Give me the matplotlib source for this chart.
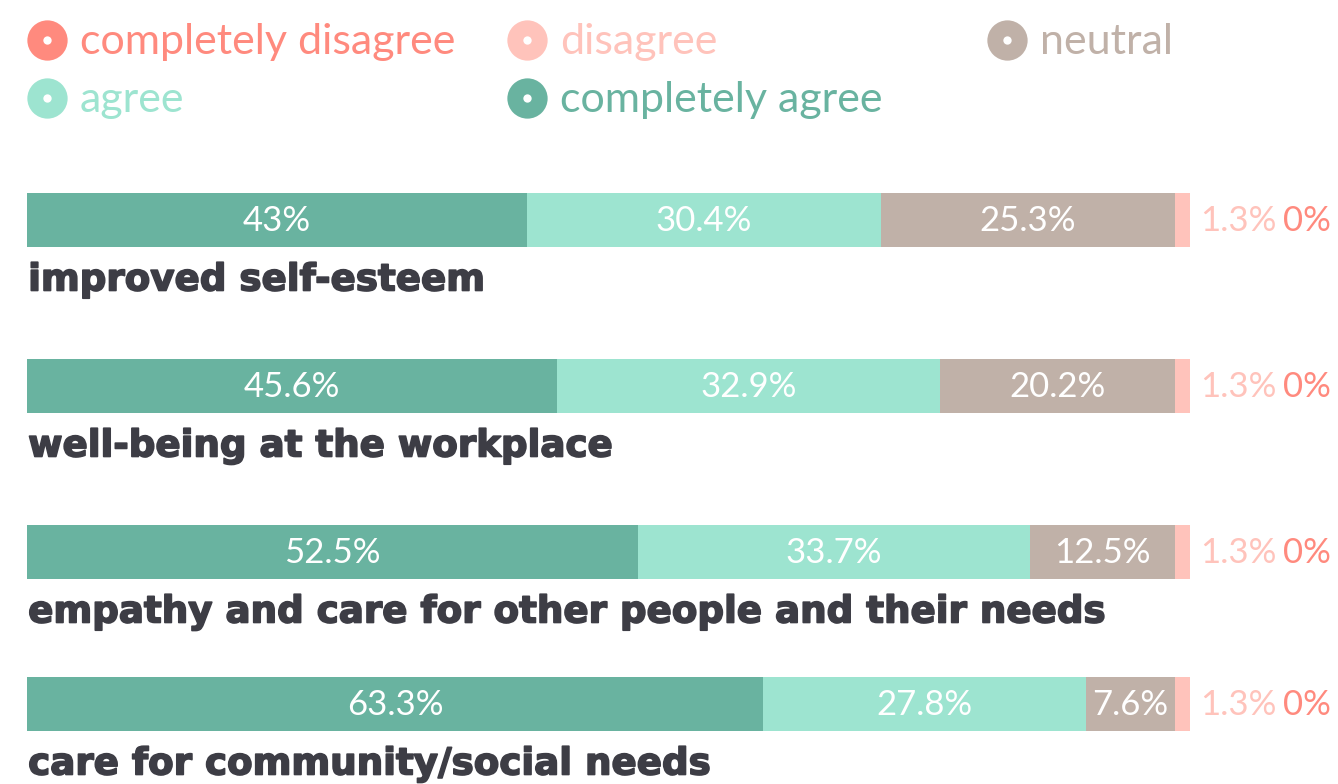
import matplotlib
matplotlib.use("Agg")
import matplotlib.pyplot as plt
import matplotlib.patheffects as pe

# survey answers, share of respondents in %
topics = ["improved self-esteem", "well-being at the workplace",
          "empathy and care for other people and their needs",
          "care for community/social needs"]
completely_agree = [43, 45.6, 52.5, 63.3]
agree = [30.4, 32.9, 33.7, 27.8]
neutral = [25.3, 20.2, 12.5, 7.6]
disagree = [1.3, 1.3, 1.3, 1.3]
completely_disagree = [0, 0, 0, 0]

legend_names = ["completely disagree", "disagree", "neutral", "agree", "completely agree"]
c_cd = "#ff8a7e"
c_d = "#ffc3bb"
c_n = "#c0b1a8"
c_a = "#9de4d0"
c_ca = "#69b3a0"
label_col = "#3d3d45"

plt.rcParams['font.family'] = ['Lato', 'DejaVu Sans']

W, H = 1338, 784
fig = plt.figure(figsize=(W / 100, H / 100), dpi=100)
ax = fig.add_axes([27 / W, 0, 1163 / W, 1])
ax.set_xlim(0, 100)
ax.set_ylim(H, 0)
ax.axis("off")

centers = [220, 386, 552, 704]
bh = 54

def fmt(v):
    return ("%.1f" % v).rstrip("0").rstrip(".") + "%"

heavy = [pe.withStroke(linewidth=1.2, foreground=label_col)]

for i, t in enumerate(topics):
    y = centers[i]
    left = 0
    for vals, col in [(completely_agree, c_ca), (agree, c_a), (neutral, c_n),
                      (disagree, c_d), (completely_disagree, c_cd)]:
        v = vals[i]
        ax.barh(y, v, left=left, height=bh, color=col, linewidth=0)
        if col in (c_ca, c_a, c_n):
            ax.text(left + v / 2, y + 1, fmt(v), ha="center", va="center",
                    color="white", fontsize=25)
        left += v
    ax.text(100.85, y + 1, fmt(disagree[i]), ha="left", va="center",
            color=c_d, fontsize=25, clip_on=False)
    ax.text(108.0, y + 1, fmt(completely_disagree[i]), ha="left", va="center",
            color=c_cd, fontsize=25, clip_on=False)
    ax.text(0.1, y + bh / 2 + 33, t, ha="left", va="center", color=label_col,
            fontsize=26.8, fontweight="bold", family="DejaVu Sans",
            path_effects=heavy, clip_on=False)

# legend with ring markers
leg_cols = [c_cd, c_d, c_n, c_a, c_ca]
leg_pos = [(47, 40), (527, 40), (1007, 40), (47, 98), (527, 98)]
for name, col, (px, py) in zip(legend_names, leg_cols, leg_pos):
    fx, fy = px / W, 1 - py / H
    fig.lines.append(plt.Line2D([fx], [fy], marker="o", markersize=29, color=col,
                                markeredgewidth=0, transform=fig.transFigure))
    fig.lines.append(plt.Line2D([fx], [fy], marker="o", markersize=6, color="white",
                                markeredgewidth=0, transform=fig.transFigure))
    fig.text((px + 33) / W, 1 - (py + 2) / H, name, color=col, fontsize=31,
             ha="left", va="center")

fig.savefig("out.png", dpi=100, facecolor="white")
